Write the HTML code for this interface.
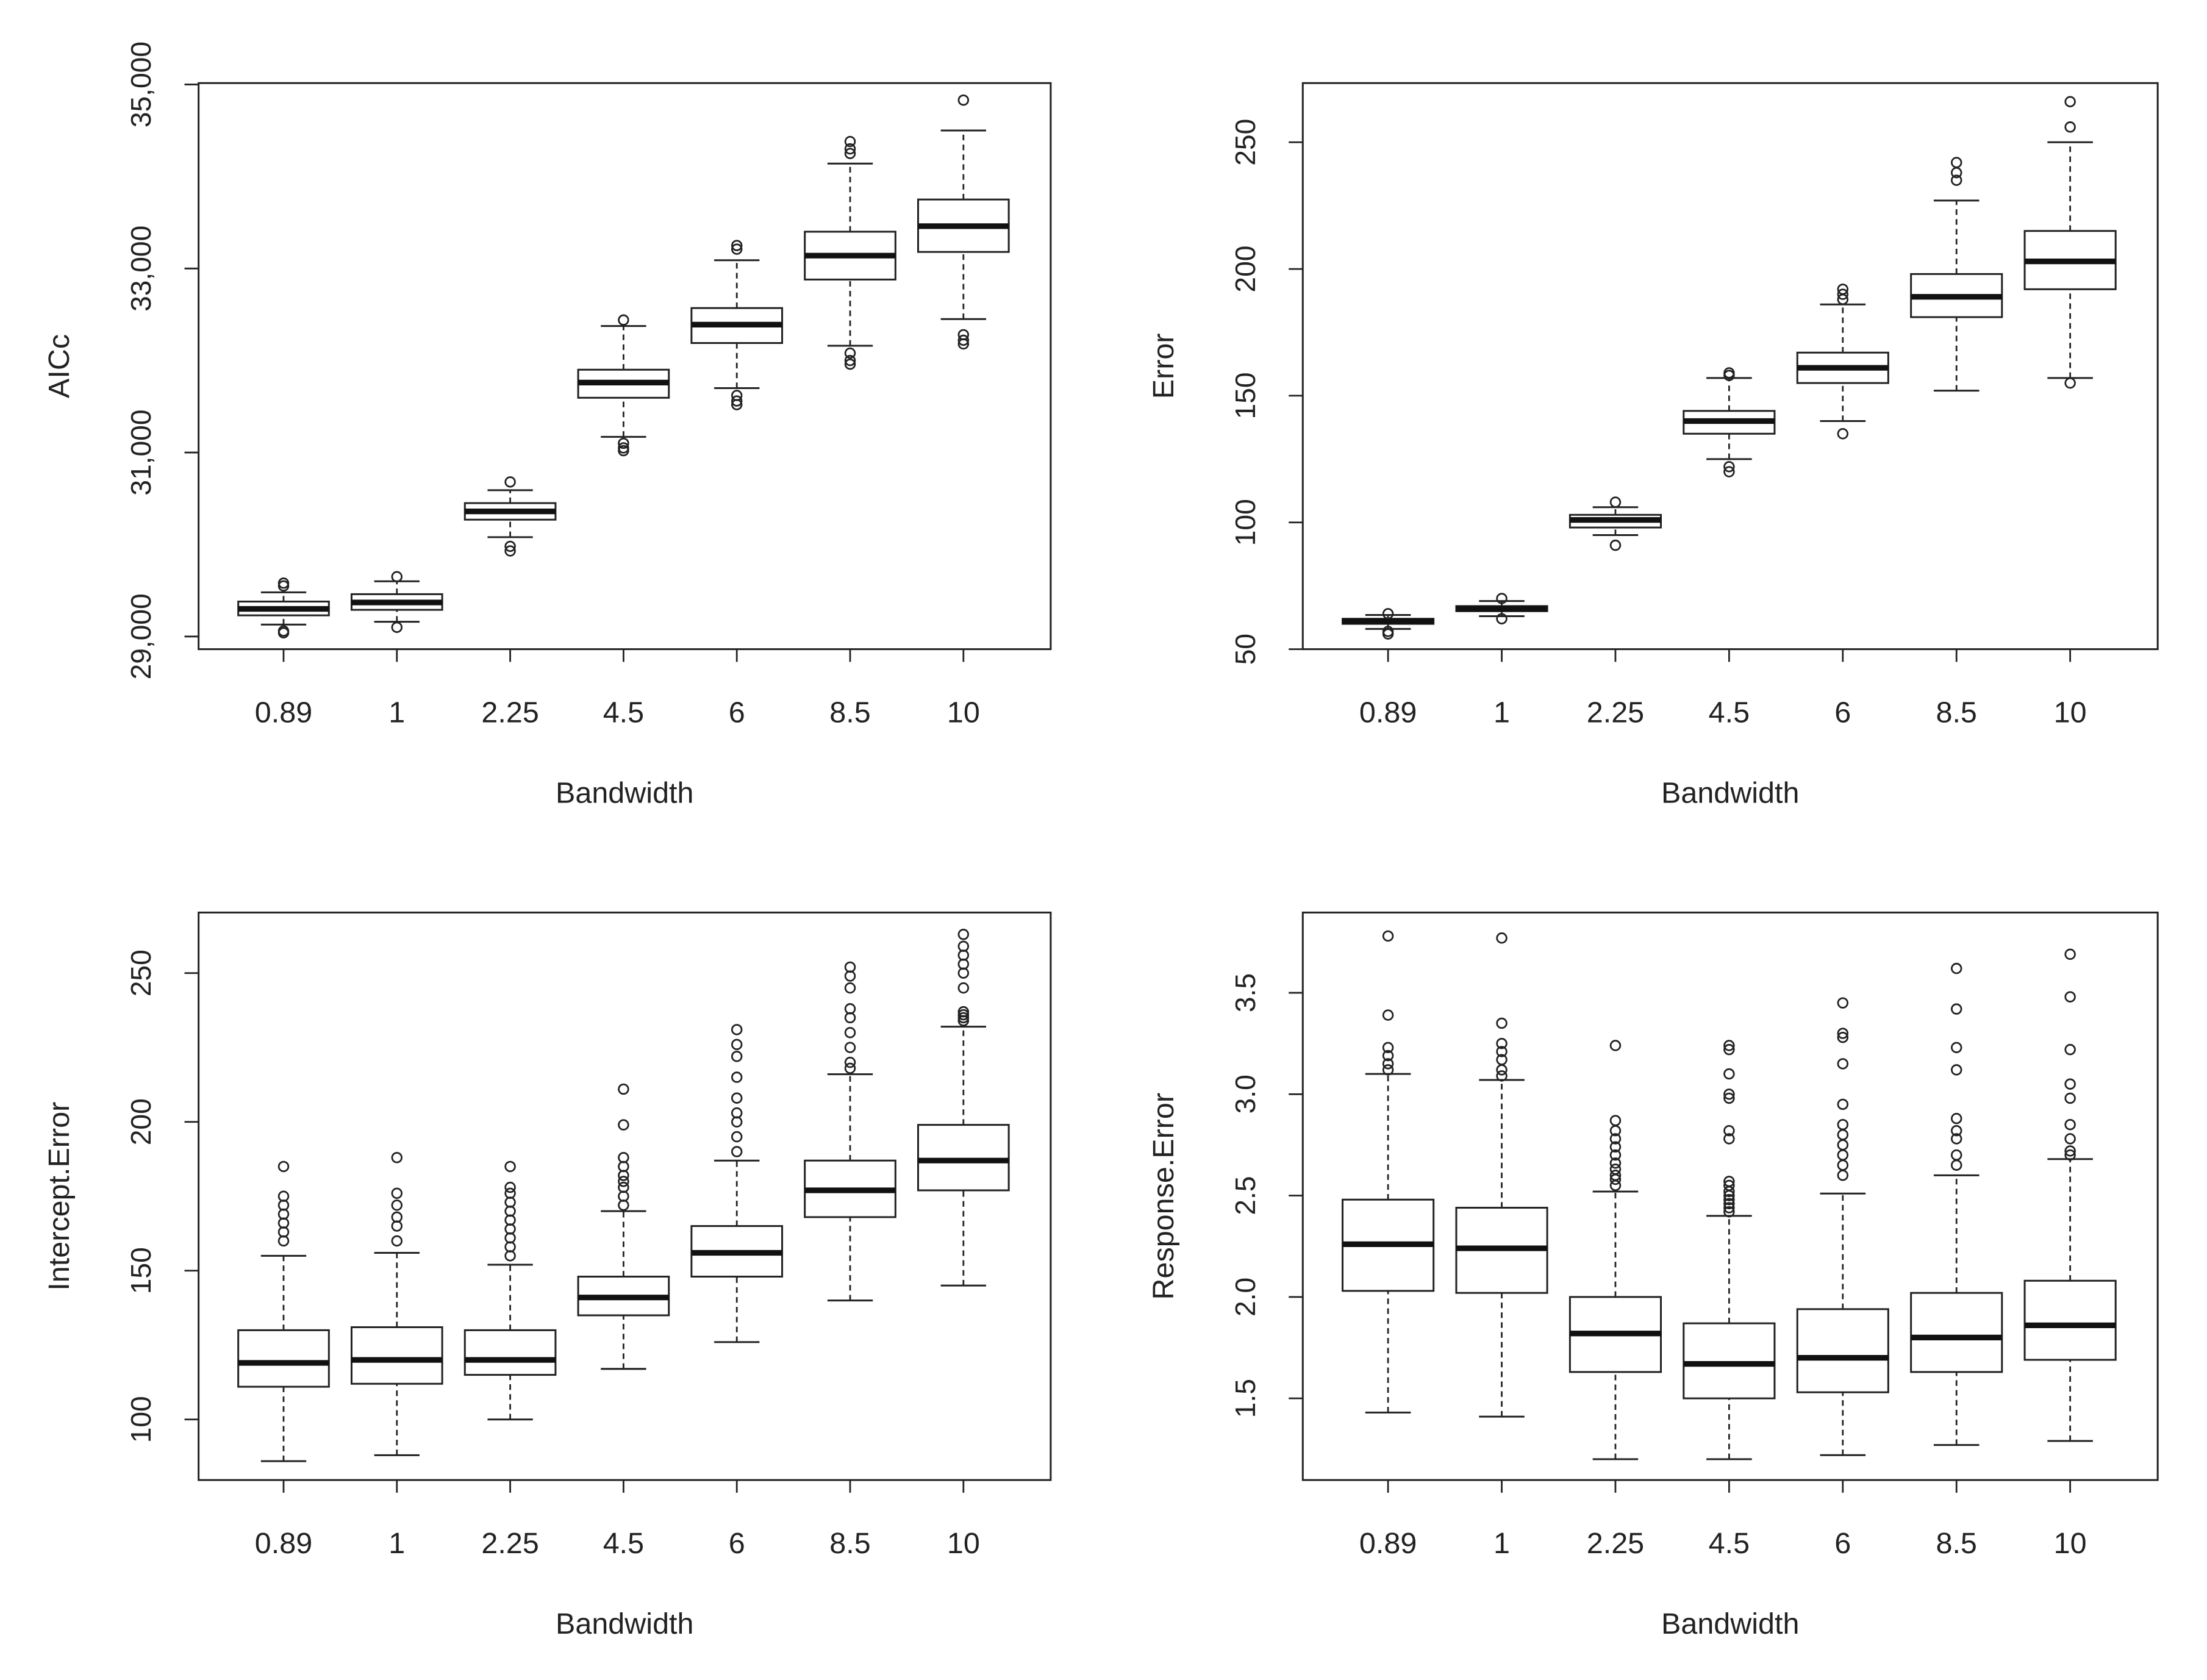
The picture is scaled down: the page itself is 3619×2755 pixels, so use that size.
<!DOCTYPE html>
<html><head><meta charset="utf-8">
<style>
html,body{margin:0;padding:0;background:#fff;}
svg{display:block;}
text{font-family:"Liberation Sans",Arial,sans-serif;fill:#222;}
</style></head>
<body>
<svg id="chart" width="3619" height="2755" viewBox="0 0 1567 1193" preserveAspectRatio="none" xmlns="http://www.w3.org/2000/svg"></svg>
<script>
const categories = ["0.89","1","2.25","4.5","6","8.5","10"];

// AICc panel: [whiskerLow, q1, median, q3, whiskerHigh]
const aiccStats = [
  [29130,29230,29300,29380,29480],
  [29160,29290,29370,29460,29600],
  [30080,30270,30360,30450,30590],
  [31170,31595,31760,31900,32375],
  [31700,32190,32390,32570,33090],
  [32160,32880,33140,33400,34140],
  [32450,33180,33460,33750,34500]
];
const aiccOutliers = [
  [29580,29550,29060,29040],
  [29650,29100],
  [30680,29980,29930],
  [32440,31100,31050,31020],
  [33250,33210,31620,31560,31520],
  [34380,34300,34250,32080,32000,31960],
  [34830,32280,32220,32180]
];
const aiccTicks = [29000,31000,33000,35000];

const errorStats = [
  [58,60,61,62,63.5],
  [63,65,66,67,69],
  [95,98,101,103,106],
  [125,135,140,144,157],
  [140,155,161,167,186],
  [152,181,189,198,227],
  [157,192,203,215,250]
];
const errorOutliers = [
  [64,57,56],
  [70,62],
  [108,91],
  [159,158,122,120],
  [192,190,188,135],
  [242,238,235],
  [266,256,155]
];
const errorTicks = [50,100,150,200,250];

const interceptStats = [
  [86,111,119,130,155],
  [88,112,120,131,156],
  [100,115,120,130,152],
  [117,135,141,148,170],
  [126,148,156,165,187],
  [140,168,177,187,216],
  [145,177,187,199,232]
];
const interceptOutliers = [
  [160,163,166,169,172,175,185],
  [160,165,168,172,176,188],
  [155,158,161,164,167,170,173,176,178,185],
  [172,175,178,180,182,185,188,199,211],
  [190,195,200,203,208,215,222,226,231],
  [218,220,225,230,235,238,245,249,252],
  [234,235,236,237,245,250,253,256,259,263]
];
const interceptTicks = [100,150,200,250];

const responseStats = [
  [1.43,2.03,2.26,2.48,3.10],
  [1.41,2.02,2.24,2.44,3.07],
  [1.20,1.63,1.82,2.00,2.52],
  [1.20,1.50,1.67,1.87,2.40],
  [1.22,1.53,1.70,1.94,2.51],
  [1.27,1.63,1.80,2.02,2.60],
  [1.29,1.69,1.86,2.08,2.68]
];
const responseOutliers = [
  [3.12,3.15,3.19,3.23,3.39,3.78],
  [3.09,3.12,3.17,3.21,3.25,3.35,3.77],
  [2.55,2.58,2.60,2.63,2.66,2.70,2.74,2.78,2.82,2.87,3.24],
  [2.42,2.44,2.46,2.48,2.50,2.52,2.55,2.57,2.78,2.82,2.98,3.00,3.10,3.22,3.24],
  [2.60,2.65,2.70,2.75,2.80,2.85,2.95,3.15,3.28,3.30,3.45],
  [2.65,2.70,2.78,2.82,2.88,3.12,3.23,3.42,3.62],
  [2.70,2.72,2.78,2.85,2.98,3.05,3.22,3.48,3.69]
];
const responseTicks = ["1.5","2.0","2.5","3.0","3.5"];

const NS = "http://www.w3.org/2000/svg";
const svg = document.getElementById("chart");
function mk(tag, attrs, parent){
  const e = document.createElementNS(NS, tag);
  for (const k in attrs) e.setAttribute(k, attrs[k]);
  (parent||svg).appendChild(e);
  return e;
}

function panel(id, x0, x1, y0, y1, v0, py0, v1, py1, stats, outs, ticks, tickFmt, ytitle){
  const g = mk("g", {});
  
  
  const yS = v => py0 + (v - v0) * (py1 - py0) / (v1 - v0);
  const step = (x1 - x0) / 7.52;
  const xS = i => x0 + step * (0.75 + i);
  const bw = step * 0.8 / 2;

  const frame = mk("rect", {x:x0, y:y0, width:x1-x0, height:y1-y0, fill:"none", stroke:"#222", "stroke-width":1.3}, g);
  
  

  stats.forEach((s, i) => {
    const cx = xS(i);
    const bg = mk("g", {}, g);
    
    
    mk("line", {x1:cx, x2:cx, y1:yS(s[0]), y2:yS(s[1]), stroke:"#222", "stroke-width":1.2, "stroke-dasharray":"4,3"}, bg);
    mk("line", {x1:cx, x2:cx, y1:yS(s[3]), y2:yS(s[4]), stroke:"#222", "stroke-width":1.2, "stroke-dasharray":"4,3"}, bg);
    mk("line", {x1:cx-bw/2, x2:cx+bw/2, y1:yS(s[0]), y2:yS(s[0]), stroke:"#222", "stroke-width":1.3}, bg);
    mk("line", {x1:cx-bw/2, x2:cx+bw/2, y1:yS(s[4]), y2:yS(s[4]), stroke:"#222", "stroke-width":1.3}, bg);
    mk("rect", {x:cx-bw, y:yS(s[3]), width:2*bw, height:Math.max(0.5, yS(s[1])-yS(s[3])), fill:"#fff", stroke:"#222", "stroke-width":1.3}, bg);
    mk("line", {x1:cx-bw, x2:cx+bw, y1:yS(s[2]), y2:yS(s[2]), stroke:"#111", "stroke-width":4}, bg);
    outs[i].forEach(o => {
      const c = mk("circle", {cx:cx, cy:yS(o), r:3.4, fill:"none", stroke:"#222", "stroke-width":1.2}, bg);
      
      
    });
    mk("line", {x1:cx, x2:cx, y1:y1, y2:y1+9, stroke:"#222", "stroke-width":1.2}, g);
    const t = mk("text", {x:cx, y:y1+52, "text-anchor":"middle", "font-size":21}, g);
    t.textContent = categories[i];
    
    
  });

  ticks.forEach(tv => {
    const v = parseFloat(tv);
    const y = yS(v);
    mk("line", {x1:x0-10, x2:x0, y1:y, y2:y, stroke:"#222", "stroke-width":1.2}, g);
    const tx = x0 - 34;
    const t = mk("text", {x:tx, y:y, "text-anchor":"middle", "font-size":20, transform:`rotate(-90 ${tx} ${y})`}, g);
    t.textContent = tickFmt(tv);
    
    
  });

  const xt = mk("text", {x:(x0+x1)/2, y:y1+109, "text-anchor":"middle", "font-size":21}, g);
  xt.textContent = "Bandwidth";
  
  
  const ty = (y0+y1)/2, tx2 = x0 - 92;
  const yt = mk("text", {x:tx2, y:ty, "text-anchor":"middle", "font-size":21, transform:`rotate(-90 ${tx2} ${ty})`}, g);
  yt.textContent = ytitle;
  
  
}

const comma = v => String(v).replace(/\B(?=(\d{3})+(?!\d))/g, ",");
const plain = v => String(v);

panel("aicc", 141, 746, 59, 461, 29000, 452, 35000, 60, aiccStats, aiccOutliers, aiccTicks, comma, "AICc");
panel("error", 925, 1532, 59, 461, 50, 461, 250, 101, errorStats, errorOutliers, errorTicks, plain, "Error");
panel("intercept", 141, 746, 648, 1051, 100, 1008, 250, 691, interceptStats, interceptOutliers, interceptTicks, plain, "Intercept.Error");
panel("response", 925, 1532, 648, 1051, 1.5, 993, 3.5, 705, responseStats, responseOutliers, responseTicks, plain, "Response.Error");
</script>
</body></html>
